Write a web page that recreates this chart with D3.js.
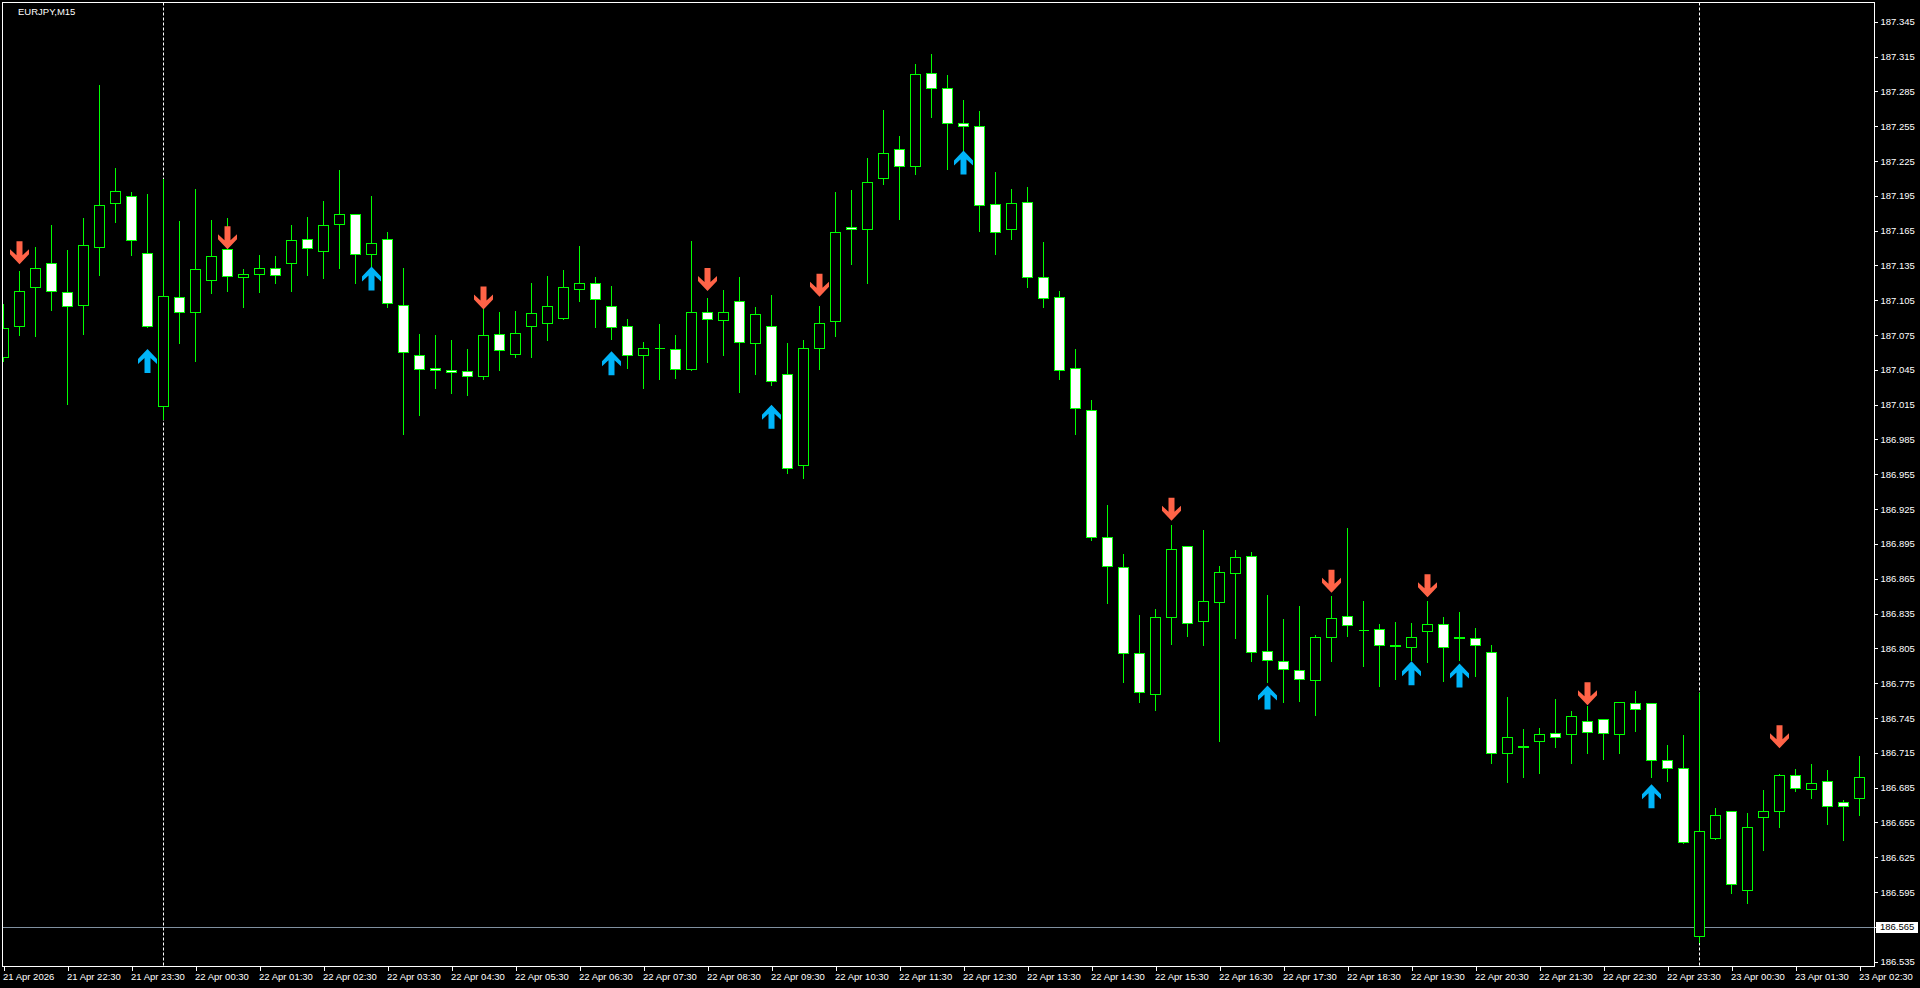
<!DOCTYPE html>
<html><head><meta charset="utf-8">
<script src="https://cdn.jsdelivr.net/npm/d3@7"></script>
<style>
html,body{margin:0;padding:0;background:#000;overflow:hidden}
svg{display:block}
text{font-family:"Liberation Sans",Arial,sans-serif;font-size:9.5px;fill:#fff}
</style></head><body>
<svg id="chart" width="1920" height="988"></svg>
<script>
// ---------- DATA ----------
const symbolLabel = "EURJPY,M15";
const firstBarTime = new Date(2026, 3, 21, 21, 30);
const barMinutes = 15;

const opens = [
187.056,187.083,187.116,187.137,187.112,187.101,187.151,187.189,187.195,187.146,
187.014,187.108,187.095,187.122,187.149,187.125,187.128,187.133,187.137,187.158,
187.147,187.171,187.179,187.145,187.158,187.101,187.058,187.047,187.045,187.044,
187.040,187.076,187.059,187.083,187.085,187.090,187.115,187.120,187.100,187.083,
187.058,187.064,187.063,187.046,187.095,187.088,187.104,187.068,187.083,187.041,
186.963,187.064,187.087,187.168,187.166,187.210,187.235,187.221,187.301,187.288,
187.258,187.255,187.188,187.166,187.190,187.125,187.108,187.047,187.010,186.901,
186.875,186.801,186.766,186.832,186.893,186.829,186.845,186.870,186.885,186.803,
186.794,186.786,186.778,186.815,186.833,186.821,186.822,186.808,186.806,186.820,
186.826,186.815,186.814,186.802,186.715,186.720,186.725,186.732,186.731,186.742,
186.744,186.731,186.758,186.758,186.709,186.702,186.557,186.642,186.665,186.597,
186.660,186.665,186.696,186.684,186.691,186.673,186.676];

const highs = [
187.103,187.131,187.152,187.171,187.149,187.177,187.291,187.220,187.199,187.197,
187.210,187.174,187.202,187.175,187.177,187.133,187.145,187.144,187.171,187.178,
187.191,187.218,187.180,187.196,187.165,187.134,187.077,187.076,187.072,187.064,
187.098,187.096,187.097,187.121,187.127,187.132,187.153,187.126,187.118,187.090,
187.070,187.085,187.076,187.157,187.108,187.115,187.126,187.100,187.110,187.069,
187.072,187.101,187.199,187.201,187.228,187.270,187.247,187.309,187.318,187.300,
187.278,187.269,187.216,187.202,187.203,187.156,187.114,187.064,187.020,186.929,
186.887,186.835,186.840,186.912,186.894,186.908,186.877,186.891,186.889,186.852,
186.831,186.842,186.817,186.851,186.910,186.847,186.827,186.829,186.828,186.847,
186.833,186.837,186.823,186.809,186.764,186.736,186.737,186.762,186.752,186.756,
186.745,186.760,186.769,186.759,186.723,186.731,186.767,186.668,186.665,186.664,
186.684,186.698,186.702,186.706,186.701,186.675,186.713];

const lows = [
187.053,187.075,187.074,187.097,187.016,187.076,187.127,187.172,187.144,187.082,
187.003,187.068,187.053,187.111,187.113,187.099,187.112,187.120,187.113,187.127,
187.124,187.133,187.120,187.124,187.099,186.990,187.006,187.029,187.025,187.023,
187.037,187.045,187.056,187.056,187.071,187.089,187.104,187.082,187.072,187.047,
187.029,187.037,187.038,187.045,187.052,187.058,187.026,187.041,187.032,186.956,
186.952,187.046,187.074,187.136,187.120,187.205,187.175,187.214,187.263,187.218,
187.234,187.165,187.145,187.158,187.116,187.099,187.037,186.990,186.898,186.844,
186.776,186.759,186.752,186.809,186.816,186.808,186.725,186.814,186.794,186.776,
186.759,186.760,186.748,186.794,186.816,186.790,186.773,186.779,186.795,186.793,
186.777,186.795,186.781,186.706,186.690,186.694,186.698,186.720,186.706,186.715,
186.710,186.715,186.734,186.694,186.691,186.637,186.552,186.641,186.594,186.586,
186.631,186.651,186.682,186.676,186.654,186.640,186.661];

const closes = [
187.081,187.113,187.133,187.113,187.100,187.153,187.187,187.199,187.157,187.083,
187.109,187.095,187.132,187.143,187.126,187.128,187.133,187.127,187.157,187.150,
187.170,187.179,187.145,187.154,187.103,187.060,187.046,187.045,187.043,187.040,
187.075,187.062,187.077,187.094,187.100,187.116,187.120,187.106,187.082,187.058,
187.064,187.064,187.046,187.095,187.089,187.095,187.069,187.093,187.035,186.960,
187.064,187.085,187.164,187.166,187.207,187.232,187.221,187.300,187.288,187.258,
187.255,187.187,187.164,187.189,187.125,187.107,187.045,187.012,186.901,186.876,
186.801,186.767,186.832,186.891,186.827,186.846,186.871,186.884,186.802,186.795,
186.787,186.779,186.815,186.831,186.825,186.821,186.808,186.807,186.815,186.826,
186.806,186.814,186.808,186.715,186.729,186.721,186.731,186.729,186.747,186.733,
186.732,186.759,186.753,186.709,186.702,186.638,186.648,186.661,186.602,186.651,
186.665,186.696,186.685,186.689,186.669,186.669,186.694];

// signal arrows (bar index, price of arrow tip)
const sellBars   = [1,14,30,44,51,73,83,89,99,111];
const sellPrices = [187.136,187.149,187.097,187.113,187.108,186.915,186.853,186.849,186.756,186.719];
const buyBars    = [9,23,38,48,60,79,88,91,103];
const buyPrices  = [187.063,187.134,187.061,187.015,187.234,186.773,186.794,186.792,186.688];

const levelLine = 186.565;

const priceTicks = [187.345,187.315,187.285,187.255,187.225,187.195,187.165,187.135,187.105,187.075,
187.045,187.015,186.985,186.955,186.925,186.895,186.865,186.835,186.805,186.775,186.745,186.715,
186.685,186.655,186.625,186.595,186.565,186.535];

const timeLabels = ["21 Apr 2026","21 Apr 22:30","21 Apr 23:30","22 Apr 00:30","22 Apr 01:30","22 Apr 02:30",
"22 Apr 03:30","22 Apr 04:30","22 Apr 05:30","22 Apr 06:30","22 Apr 07:30","22 Apr 08:30","22 Apr 09:30",
"22 Apr 10:30","22 Apr 11:30","22 Apr 12:30","22 Apr 13:30","22 Apr 14:30","22 Apr 15:30","22 Apr 16:30",
"22 Apr 17:30","22 Apr 18:30","22 Apr 19:30","22 Apr 20:30","22 Apr 21:30","22 Apr 22:30","22 Apr 23:30",
"23 Apr 00:30","23 Apr 01:30","23 Apr 02:30"];

// ---------- BUILD ----------
const N = opens.length;
const times = d3.range(N).map(i => d3.timeMinute.offset(firstBarTime, i * barMinutes));
const bars = times.map((t, i) => ({t, i, o: opens[i], h: highs[i], l: lows[i], c: closes[i]}));

const plotL = 2.5, plotR = 1874.5, plotT = 2.5, plotB = 966.5;

const x = d3.scaleTime().domain([times[0], times[N - 1]]).range([3.5, 1859.5]);
const y = d3.scaleLinear().domain([186.535, 187.345]).range([961.7, 21.7]);

const svg = d3.select("#chart");
svg.append("rect").attr("width", 1920).attr("height", 988).attr("fill", "#000");

svg.append("clipPath").attr("id", "plotclip").append("rect")
  .attr("x", plotL + 0.5).attr("y", plotT + 0.5).attr("width", plotR - plotL - 1).attr("height", plotB - plotT - 1);

const plot = svg.append("g").attr("clip-path", "url(#plotclip)");

// level line
const ly = Math.round(y(levelLine)) + 0.5;
plot.append("line").attr("x1", plotL).attr("x2", plotR).attr("y1", ly).attr("y2", ly)
  .attr("stroke", "#8090a0").attr("stroke-width", 1);

// day separators
const dayStarts = bars.filter(b => b.t.getHours() === 0 && b.t.getMinutes() === 0);
plot.selectAll("line.sep").data(dayStarts).join("line").attr("class", "sep")
  .attr("x1", b => x(b.t)).attr("x2", b => x(b.t)).attr("y1", plotT).attr("y2", plotB)
  .attr("stroke", "#fff").attr("stroke-width", 1).attr("stroke-dasharray", "3,2");

const G = "#00ff00";
const snap = v => Math.round(v) + 0.5;

// wicks
plot.selectAll("line.wick").data(bars).join("line").attr("class", "wick")
  .attr("x1", b => x(b.t)).attr("x2", b => x(b.t))
  .attr("y1", b => snap(y(b.h))).attr("y2", b => snap(y(b.l)))
  .attr("stroke", G).attr("stroke-width", 1).attr("shape-rendering", "crispEdges");

// bodies
plot.selectAll("path.body").data(bars).join("path").attr("class", "body")
  .attr("d", b => {
    const cx = x(b.t), x0 = cx - 5, x1 = cx + 5;
    const yt = snap(y(Math.max(b.o, b.c))), yb = snap(y(Math.min(b.o, b.c)));
    return `M${x0},${yt}H${x1}V${yb}H${x0}Z`;
  })
  .attr("fill", b => b.c < b.o ? "#fff" : "#000")
  .attr("stroke", G).attr("stroke-width", 1).attr("shape-rendering", "crispEdges");

// arrows
const sells = sellBars.map((bi, k) => ({t: times[bi], p: sellPrices[k]}));
const buys = buyBars.map((bi, k) => ({t: times[bi], p: buyPrices[k]}));
function downArrow(cx, ty) {
  return `M${cx},${ty}L${cx + 9.5},${ty - 10}L${cx + 9.5},${ty - 15}L${cx + 3},${ty - 9}L${cx + 3},${ty - 23}` +
         `L${cx - 3},${ty - 23}L${cx - 3},${ty - 9}L${cx - 9.5},${ty - 15}L${cx - 9.5},${ty - 10}Z`;
}
function upArrow(cx, ty) {
  return `M${cx},${ty}L${cx + 9.5},${ty + 10}L${cx + 9.5},${ty + 15}L${cx + 3},${ty + 9}L${cx + 3},${ty + 24}` +
         `L${cx - 3},${ty + 24}L${cx - 3},${ty + 9}L${cx - 9.5},${ty + 15}L${cx - 9.5},${ty + 10}Z`;
}
plot.selectAll("path.sell").data(sells).join("path").attr("class", "sell")
  .attr("d", s => downArrow(x(s.t), y(s.p))).attr("fill", "#ff6347");
plot.selectAll("path.buy").data(buys).join("path").attr("class", "buy")
  .attr("d", s => upArrow(x(s.t), y(s.p))).attr("fill", "#00b4f8");

// frame
svg.append("rect").attr("x", plotL).attr("y", plotT).attr("width", plotR - plotL).attr("height", plotB - plotT)
  .attr("fill", "none").attr("stroke", "#fff").attr("stroke-width", 1).attr("shape-rendering", "crispEdges");

// symbol label
svg.append("text").attr("x", 18).attr("y", 15).text(symbolLabel);

// price axis
const yAxis = d3.axisRight(y).tickValues(priceTicks).tickSize(3).tickPadding(3)
  .tickFormat(d3.format(".3f"));
const ya = svg.append("g").attr("transform", `translate(${plotR},0)`).call(yAxis);
ya.select(".domain").remove();
ya.selectAll(".tick line").attr("stroke", "#fff").attr("shape-rendering", "crispEdges");
ya.selectAll(".tick text").attr("fill", "#fff").attr("font-size", null).attr("font-family", null);

// level label box
const lvl = svg.append("g");
lvl.append("rect").attr("x", 1876).attr("y", Math.round(y(levelLine)) - 5).attr("width", 42).attr("height", 11).attr("fill", "#fff");
lvl.append("text").attr("x", 1880).attr("y", y(levelLine)).attr("dy", "0.35em").style("fill", "#000").text(d3.format(".3f")(levelLine));

// time axis
const tickTimes = times.filter(t => t.getMinutes() === 30);
const xAxis = d3.axisBottom(x).tickValues(tickTimes).tickSize(4)
  .tickFormat((d, i) => timeLabels[i]);
const xa = svg.append("g").attr("transform", `translate(0,${plotB})`).call(xAxis);
xa.select(".domain").remove();
xa.selectAll(".tick line").attr("stroke", "#fff").attr("shape-rendering", "crispEdges");
xa.selectAll(".tick text").attr("text-anchor", "start").attr("dx", -1).attr("y", 13.5).attr("dy", 0)
  .attr("fill", "#fff").attr("font-size", null).attr("font-family", null);
</script>
</body></html>
